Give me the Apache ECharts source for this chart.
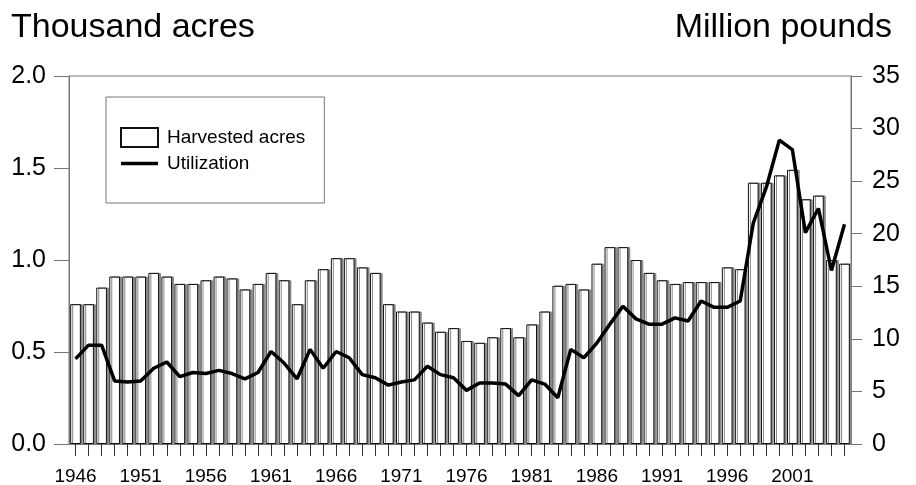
<!DOCTYPE html>
<html>
<head>
<meta charset="utf-8">
<script src="https://cdn.jsdelivr.net/npm/echarts@6/dist/echarts.min.js"></script>
<style>
html,body{margin:0;padding:0;background:#fff;}
#chart{width:916px;height:485px;}
</style>
</head>
<body>
<div id="chart"></div>
<script>
//年份
var years = ['1946','1947','1948','1949','1950','1951','1952','1953','1954','1955',
	'1956','1957','1958','1959','1960','1961','1962','1963','1964','1965',
	'1966','1967','1968','1969','1970','1971','1972','1973','1974','1975',
	'1976','1977','1978','1979','1980','1981','1982','1983','1984','1985',
	'1986','1987','1988','1989','1990','1991','1992','1993','1994','1995',
	'1996','1997','1998','1999','2000','2001','2002','2003','2004','2005'];
//Harvested acres (thousand acres)
var acres = [0.76,0.76,0.85,0.91,0.91,0.91,0.93,0.91,0.87,0.87,
	0.89,0.91,0.90,0.84,0.87,0.93,0.89,0.76,0.89,0.95,
	1.01,1.01,0.96,0.93,0.76,0.72,0.72,0.66,0.61,0.63,
	0.56,0.55,0.58,0.63,0.58,0.65,0.72,0.86,0.87,0.84,
	0.98,1.07,1.07,1.00,0.93,0.89,0.87,0.88,0.88,0.88,
	0.96,0.95,1.42,1.42,1.46,1.49,1.33,1.35,1.00,0.98];
//Utilization (million pounds)
var utilization = [8.1,9.4,9.4,6.0,5.9,6.0,7.2,7.8,6.4,6.8,
	6.7,7.0,6.7,6.2,6.8,8.8,7.7,6.2,9.0,7.2,
	8.8,8.2,6.6,6.3,5.6,5.9,6.1,7.4,6.6,6.3,
	5.1,5.8,5.8,5.7,4.6,6.1,5.7,4.4,9.0,8.2,
	9.6,11.4,13.1,11.9,11.4,11.4,12.0,11.7,13.6,13.0,
	13.0,13.6,21.0,24.4,28.9,28.0,20.1,22.4,16.5,20.9];
//刻度
var leftTicks = {min: 0, max: 2, interval: 0.5};
var rightTicks = {min: 0, max: 35, interval: 5};

var font = 'Liberation Sans, Arial, sans-serif';
var axisGray = '#777';

var option = {
	animation: false,
	backgroundColor: '#fff',
	textStyle: {fontFamily: font},
	title: [{
		text: 'Thousand acres',
		left: 11,
		top: 11,
		padding: 0,
		textStyle: {fontSize: 34, fontWeight: 'normal', color: '#000', fontFamily: font}
	}, {
		text: 'Million pounds',
		right: 24,
		top: 11,
		padding: 0,
		textStyle: {fontSize: 34, fontWeight: 'normal', color: '#000', fontFamily: font}
	}],
	legend: {
		orient: 'vertical',
		left: 106,
		top: 97,
		padding: [30, 19, 30, 14],
		borderColor: axisGray,
		borderWidth: 1,
		itemWidth: 37,
		itemHeight: 19,
		itemGap: 6,
		selectedMode: false,
		textStyle: {fontSize: 19, color: '#000', fontFamily: font, padding: [0, 0, 0, 4]},
		data: [
			{name: 'Harvested acres', icon: 'rect'},
			//折线图例只画一条粗线，不带圆点
			{name: 'Utilization', icon: 'path://M0,0 L37,0 L37,3.5 L0,3.5 Z'}
		]
	},
	grid: {
		left: 69,
		right: 65,
		top: 76,
		bottom: 41,
		show: true,
		borderColor: axisGray,
		borderWidth: 1,
		containLabel: false,
		outerBoundsMode: 'none'
	},
	xAxis: {
		type: 'category',
		data: years,
		boundaryGap: true,
		axisLine: {lineStyle: {color: axisGray, width: 1}},
		axisTick: {show: true, interval: 0, alignWithLabel: true, length: 12, lineStyle: {color: '#333'}},
		axisLabel: {interval: 4, margin: 23, fontSize: 19, color: '#000', fontFamily: font},
		splitLine: {show: false}
	},
	yAxis: [{
		type: 'value',
		position: 'left',
		min: leftTicks.min,
		max: leftTicks.max,
		interval: leftTicks.interval,
		axisLine: {show: true, lineStyle: {color: axisGray}},
		axisTick: {show: true, length: 15, lineStyle: {color: axisGray}},
		axisLabel: {
			margin: 23, fontSize: 25, color: '#000', fontFamily: font,
			formatter: function (v) { return v.toFixed(1); }
		},
		splitLine: {show: false}
	}, {
		type: 'value',
		position: 'right',
		min: rightTicks.min,
		max: rightTicks.max,
		interval: rightTicks.interval,
		axisLine: {show: true, lineStyle: {color: axisGray}},
		axisTick: {show: true, length: 11, lineStyle: {color: axisGray}},
		axisLabel: {margin: 21, fontSize: 25, color: '#000', fontFamily: font},
		splitLine: {show: false}
	}],
	series: [{
		name: 'Harvested acres',
		type: 'bar',
		yAxisIndex: 0,
		data: acres,
		barWidth: '82%',
		itemStyle: {
			color: '#fff',
			borderColor: '#111',
			borderWidth: 1,
			shadowColor: '#888',
			shadowOffsetX: 2,
			shadowOffsetY: 0,
			shadowBlur: 0
		}
	}, {
		name: 'Utilization',
		type: 'line',
		yAxisIndex: 1,
		data: utilization,
		symbol: 'none',
		z: 5,
		lineStyle: {color: '#000', width: 3.5},
		itemStyle: {color: '#000'}
	}]
};

var chart = echarts.init(document.getElementById('chart'));
chart.setOption(option);
</script>
</body>
</html>
